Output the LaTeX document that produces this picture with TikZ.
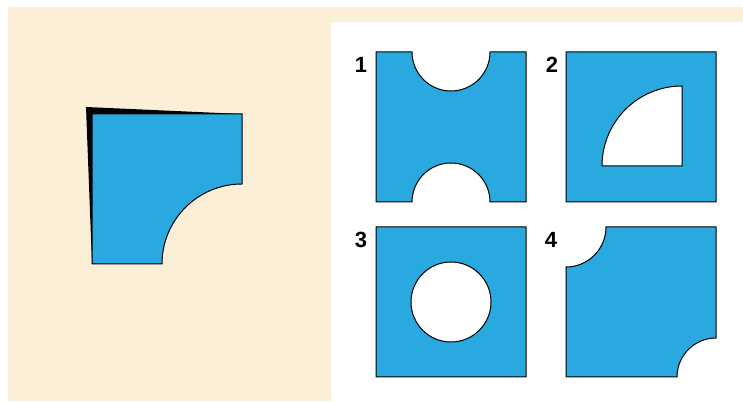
\documentclass[tikz,border=0pt]{standalone}
\usepackage{fontspec}
\setmainfont{Liberation Sans}
\definecolor{cream}{HTML}{FCEFD7}
\definecolor{sky}{HTML}{29A9E0}
\tikzset{piece/.style={fill=sky,draw=black,line width=1pt},
 num/.style={font=\fontsize{22}{26}\selectfont\bfseries,inner sep=0pt}}
\begin{document}
\begin{tikzpicture}[x=1pt,y=1pt]
\useasboundingbox (0,0) rectangle (743,401);
\fill[cream] (8,0) rectangle (743,394);
\fill[white] (331,0) rectangle (743,379);
% folded piece on the left
\fill[black] (86,294)--(242,287)--(92,137)--cycle;
\draw[piece] (92,137)--(162,137) arc (180:90:80)--(242,287)--(92,287)--cycle;
% answer choices
\draw[piece] (376,199)--(412,199) arc (180:0:39)--(526,199)--(526,349)--(490,349) arc (0:-180:39)--(376,349)--cycle;
\draw[piece,even odd rule] (566,199) rectangle (716,349) (682,235)--(682,315) arc (90:180:80)--cycle;
\draw[piece,even odd rule] (376,24) rectangle (526,174) (451,99) circle (40);
\draw[piece] (566,24)--(677,24) arc (180:90:39)--(716,174)--(606,174) arc (0:-90:40)--cycle;
\foreach \n/\x/\y in {1/361/336,2/552/336,3/361/161,4/551/161}
 \node[num] (choice\n) at (\x,\y) {\n};
\end{tikzpicture}
\end{document}
